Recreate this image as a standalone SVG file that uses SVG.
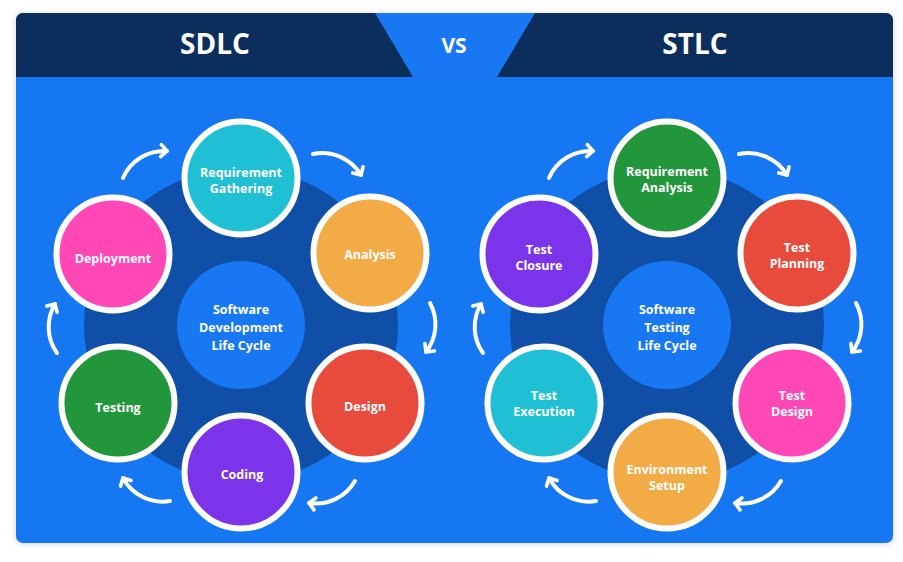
<svg xmlns="http://www.w3.org/2000/svg" width="903" height="562" viewBox="0 0 903 562">
<defs>
<filter id="sh" x="-5%" y="-5%" width="110%" height="110%">
<feDropShadow dx="0" dy="1" stdDeviation="3" flood-color="#000" flood-opacity="0.18"/>
</filter>
<marker id="ah" viewBox="-10 -10 20 20" markerWidth="20" markerHeight="20" refX="0" refY="0" orient="auto" markerUnits="userSpaceOnUse">
<path d="M-6,-6 L0,0 L-6,6" fill="none" stroke="#fff" stroke-width="3.6" stroke-linecap="round" stroke-linejoin="round"/>
</marker>
<style>
.hd{font-family:"Open Sans","Liberation Sans",sans-serif;font-weight:700;fill:#fff;text-anchor:middle}
.t{font-family:"Open Sans","Liberation Sans",sans-serif;font-weight:700;font-size:12.5px;fill:#fff;text-anchor:middle}
.node{stroke:#fff;stroke-width:6}
.arr{fill:none;stroke:#fff;stroke-width:4;stroke-linecap:round;marker-end:url(#ah)}
.ring{fill:#0f4fa7}
.core{fill:#1877f2}
</style>
</defs>
<rect width="903" height="562" fill="#fff"/>
<g id="card">
<rect x="16" y="13" width="877" height="530" rx="7" fill="#1877f2" filter="url(#sh)"/>
<path d="M16,77 V20 A7,7 0 0 1 23,13 H886 A7,7 0 0 1 893,20 V77 Z" fill="#0c2e5c"/>
<polygon points="375,13 535,13 497,77 413,77" fill="#1877f2"/>
<text class="hd" x="215" y="54" font-size="28">SDLC</text>
<text class="hd" x="454" y="53" font-size="21">VS</text>
<text class="hd" x="695" y="54" font-size="28">STLC</text>
</g>
<g id="sdlc-bg">
<circle class="ring" cx="241" cy="325" r="157"/>
<circle class="core" cx="241" cy="325" r="64"/>
<text class="t"><tspan x="241" y="313.5">Software</tspan><tspan x="241" y="331.5">Development</tspan><tspan x="241" y="349.5">Life Cycle</tspan></text>
</g>
<g id="stlc-bg">
<circle class="ring" cx="667" cy="325" r="157"/>
<circle class="core" cx="667" cy="325" r="64"/>
<text class="t"><tspan x="667" y="313.5">Software</tspan><tspan x="667" y="331.5">Testing</tspan><tspan x="667" y="349.5">Life Cycle</tspan></text>
</g>
<g id="connectors">
<path class="arr" d="M123,178 A45,45 0 0 1 167,151"/>
<path class="arr" d="M313,154 A45,45 0 0 1 361,175"/>
<path class="arr" d="M430,303 A45,45 0 0 1 426,352"/>
<path class="arr" d="M355,481 A45,45 0 0 1 309,503"/>
<path class="arr" d="M170,501 A45,45 0 0 1 123,478"/>
<path class="arr" d="M57,353 A45,45 0 0 1 55,304"/>
<path class="arr" d="M549,178 A45,45 0 0 1 593,151"/>
<path class="arr" d="M739,154 A45,45 0 0 1 787,175"/>
<path class="arr" d="M856,303 A45,45 0 0 1 852,352"/>
<path class="arr" d="M781,481 A45,45 0 0 1 735,503"/>
<path class="arr" d="M596,501 A45,45 0 0 1 549,478"/>
<path class="arr" d="M483,353 A45,45 0 0 1 481,304"/>
</g>
<g id="req-gathering"><circle class="node" cx="241" cy="178" r="56.5" fill="#20c0d4"/><text class="t"><tspan x="241" y="177">Requirement</tspan><tspan x="241" y="193">Gathering</tspan></text></g>
<g id="analysis"><circle class="node" cx="370" cy="253" r="56.5" fill="#f2ab45"/><text class="t" x="370" y="258.5">Analysis</text></g>
<g id="design"><circle class="node" cx="365" cy="403" r="56.5" fill="#e84a3c"/><text class="t" x="365" y="410.5">Design</text></g>
<g id="coding"><circle class="node" cx="241" cy="472" r="56.5" fill="#7c34ea"/><text class="t" x="242" y="478.5">Coding</text></g>
<g id="testing"><circle class="node" cx="118" cy="403" r="56.5" fill="#22963b"/><text class="t" x="118" y="411.5">Testing</text></g>
<g id="deployment"><circle class="node" cx="113" cy="254" r="56.5" fill="#ff47b5"/><text class="t" x="113" y="262.5">Deployment</text></g>
<g id="req-analysis"><circle class="node" cx="667" cy="178" r="56.5" fill="#22963b"/><text class="t"><tspan x="667" y="176">Requirement</tspan><tspan x="667" y="192">Analysis</tspan></text></g>
<g id="test-planning"><circle class="node" cx="797" cy="253" r="56.5" fill="#e84a3c"/><text class="t"><tspan x="797" y="252">Test</tspan><tspan x="797" y="268">Planning</tspan></text></g>
<g id="test-design"><circle class="node" cx="792" cy="403" r="56.5" fill="#ff47b5"/><text class="t"><tspan x="792" y="400">Test</tspan><tspan x="792" y="416">Design</tspan></text></g>
<g id="env-setup"><circle class="node" cx="667" cy="472" r="56.5" fill="#f2ab45"/><text class="t"><tspan x="667" y="474">Environment</tspan><tspan x="667" y="490">Setup</tspan></text></g>
<g id="test-execution"><circle class="node" cx="544" cy="403" r="56.5" fill="#20c0d4"/><text class="t"><tspan x="544" y="400">Test</tspan><tspan x="544" y="416">Execution</tspan></text></g>
<g id="test-closure"><circle class="node" cx="539" cy="254" r="56.5" fill="#7c34ea"/><text class="t"><tspan x="539" y="254">Test</tspan><tspan x="539" y="270">Closure</tspan></text></g>
</svg>
